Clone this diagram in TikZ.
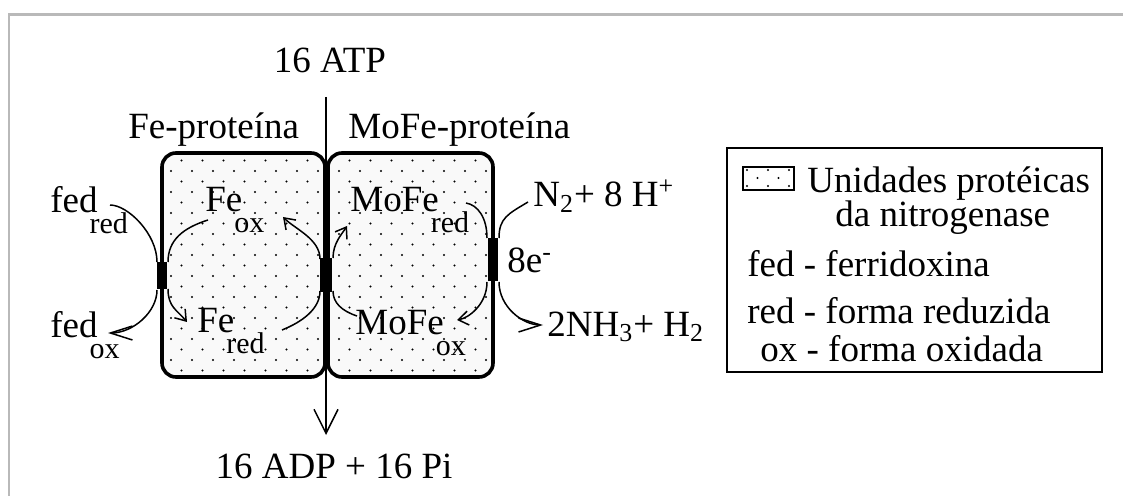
\documentclass[tikz,border=0pt]{standalone}
\usepackage{fontspec}
\setmainfont{Liberation Serif}
\usetikzlibrary{arrows.meta}
\newcommand{\lsub}[1]{\kern-4pt\raisebox{-10.5pt}{\fontsize{15pt}{15pt}\selectfont #1}}
\tikzset{prot/.style={draw,line width=1.8pt,rounded corners=7pt},
 wire/.style={line width=0.75pt},arr/.style={wire,-{Straight Barb[length=5pt,width=7pt]}},
 longarr/.style={wire,-{Straight Barb[length=11pt,width=7pt]}},
 bar/.style={line width=5pt},frame/.style={gray!55,line width=1.3pt},
 lbl/.style={anchor=base west,inner sep=0pt},
 every node/.style={font=\fontsize{18.5pt}{20pt}\selectfont}}
\begin{document}
\begin{tikzpicture}[x=0.5pt,y=-0.5pt]
\useasboundingbox (0,0) rectangle (1123,496);
\draw[frame] (9,496)--(9,14.5)--(1123,14.5);
% protein units, dotted
\fill[gray!5,rounded corners=7pt] (162,153) rectangle (325,377) (328,153) rectangle (493,377);
\begin{scope}
\clip[rounded corners=7pt] (162,153) rectangle (325,377) (328,153) rectangle (493,377);
\foreach \r in {0,...,22}{\foreach \c in {0,...,17}{
  \pgfmathsetmacro\xx{150+21*\c+10.5*mod(\r,2)}
  \fill ({\xx},{150+10.5*\r}) circle[radius=0.55pt];}}
\end{scope}
\draw[prot] (162,153) rectangle (325,377);
\draw[prot] (328,153) rectangle (493,377);
\coordinate (lbt) at (162,262);\coordinate (lbb) at (162,289);
\coordinate (cbt) at (326,258);\coordinate (cbb) at (326,292);
\coordinate (rbt) at (493,238);\coordinate (rbb) at (493,281);
\draw[bar] (lbt)--(lbb);\draw[bar,line width=6pt] (cbt)--(cbb);\draw[bar] (rbt)--(rbb);
\coordinate (atpin) at (326,97);\coordinate (adpout) at (326,435);
\draw[wire,-{Straight Barb[length=12pt,width=12pt]}] (atpin)--(adpout);
% electron paths
\coordinate (a1) at (110,205);\coordinate (a2) at (157,262);
\coordinate (b1) at (157,290);\coordinate (b2) at (108,333);
\coordinate (c1) at (208,220);\coordinate (c2) at (168,262);
\coordinate (d1) at (168,289);\coordinate (d2) at (187,322);
\coordinate (e1) at (282,330);\coordinate (e2) at (320,291);
\coordinate (f1) at (320,259);\coordinate (f2) at (283,217);
\coordinate (g1) at (357,316);\coordinate (g2) at (333,291);
\coordinate (h1) at (333,258);\coordinate (h2) at (347,226);
\coordinate (i1) at (466,203);\coordinate (i2) at (487,238);
\coordinate (j1) at (487,282);\coordinate (j2) at (457,320);
\coordinate (k1) at (528,202);\coordinate (k2) at (499,238);
\coordinate (l1) at (499,282);\coordinate (l2) at (543,325);
\draw[wire] (a1) .. controls +(18,0) and +(0,-28) .. (a2);
\draw[longarr] (b1) .. controls +(0,22) and +(25,0) .. (b2);
\draw[wire] (c1) .. controls +(-25,8) and +(0,-22) .. (c2);
\draw[arr] (d1) .. controls +(0,18) and +(-10,-12) .. (d2);
\draw[wire] (e1) .. controls +(20,-8) and +(0,18) .. (e2);
\draw[arr] (f1) .. controls +(0,-20) and +(12,12) .. (f2);
\draw[wire] (g1) .. controls +(-15,-5) and +(0,12) .. (g2);
\draw[arr] (h1) .. controls +(0,-15) and +(-5,8) .. (h2);
\draw[wire] (i1) .. controls +(12,2) and +(0,-20) .. (i2);
\draw[arr] (j1) .. controls +(0,22) and +(12,-2) .. (j2);
\draw[wire] (k1) .. controls +(-20,12) and +(0,-20) .. (k2);
\draw[longarr] (l1) .. controls +(0,25) and +(-20,0) .. (l2);
% labels
\node[anchor=base,inner sep=0pt] (atp) at (330,73) {16 ATP};
\node[anchor=base,inner sep=0pt] (adp) at (334,478) {16 ADP + 16 Pi};
\node[lbl] (feprot) at (128,139) {Fe-proteína};
\node[lbl] (mofeprot) at (348,139) {MoFe-proteína};
\node[lbl] (fedred) at (50,213) {fed\lsub{red}};
\node[lbl] (fedox) at (50,337) {fed\lsub{ox}};
\node[lbl] (feox) at (205,212) {Fe\lsub{ox}};
\node[lbl] (fered) at (197,333) {Fe\lsub{red}};
\node[lbl] (mofered) at (350,212) {MoFe\lsub{red}};
\node[lbl] (mofeox) at (355,335) {MoFe\lsub{ox}};
\node[lbl] (ntwo) at (533,207) {N\textsubscript{2}+ 8 H\textsuperscript{+}};
\node[lbl] (eight) at (507,273) {8e\textsuperscript{-}};
\node[lbl] (nhthree) at (547,336) {2NH\textsubscript{3}+ H\textsubscript{2}};
% legend
\node[draw,line width=1pt,minimum width=187.5pt,minimum height=112pt] (legend) at (914.5,260) {};
\begin{scope}
\clip (743,167) rectangle (794,190);
\foreach \r in {0,...,2}{\foreach \c in {0,...,3}{
  \pgfmathsetmacro\xx{747+21*\c+10.5*mod(\r,2)}
  \fill ({\xx},{170+8*\r}) circle[radius=0.55pt];}}
\end{scope}
\node[draw,line width=1pt,minimum width=25.5pt,minimum height=11.5pt,inner sep=0pt] (swatch) at (768.5,178.5) {};
\node[lbl] (leg1) at (807,193) {Unidades protéicas};
\node[lbl] (leg2) at (835,227) {da nitrogenase};
\node[lbl] (leg3) at (747,277) {fed - ferridoxina};
\node[lbl] (leg4) at (747,323) {red - forma reduzida};
\node[lbl] (leg5) at (760,362) {ox - forma oxidada};
\end{tikzpicture}
\end{document}
